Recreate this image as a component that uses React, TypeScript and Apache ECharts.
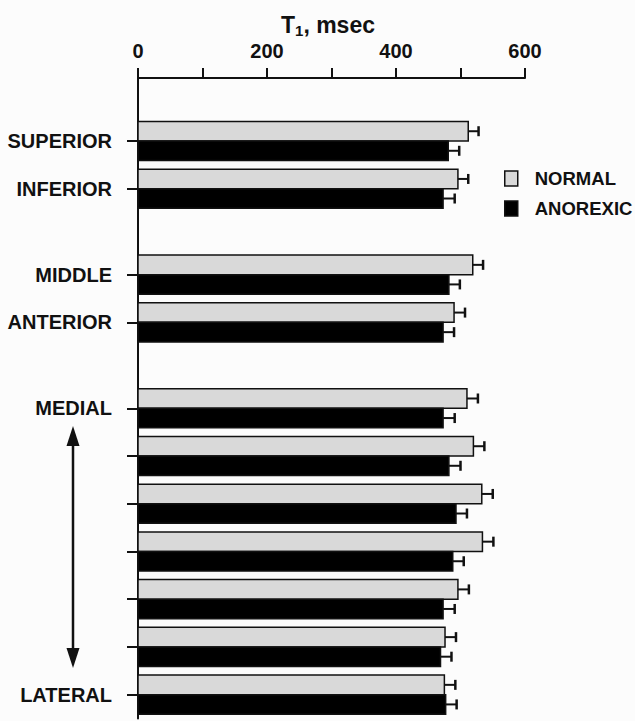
import React, { useEffect, useRef } from "react";
import * as echarts from "echarts";

// ---- data ----
const regions = ["SUPERIOR", "INFERIOR", "MIDDLE", "ANTERIOR", "MEDIAL", "", "", "", "", "", "LATERAL"];
const sections = [0, 0, 1, 1, 2, 2, 2, 2, 2, 2, 2];
const normal = [512, 496, 519, 490, 510, 520, 533, 534, 496, 476, 475];
const normalErr = [16, 16, 16, 17, 17, 17, 17, 17, 17, 17, 17];
const anorexic = [481, 473, 482, 473, 473, 482, 493, 488, 473, 469, 477];
const anorexicErr = [17, 18, 17, 17, 18, 18, 17, 17, 18, 17, 17];

const SECTION_GAP = 0.8;
const BAR_UNITS = 0.41;
const FONT = "'Liberation Sans', Arial, sans-serif";

const positions = regions.map((_, i) => i + sections[i] * SECTION_GAP);

function labelFor(v: number): string {
  for (let i = 0; i < positions.length; i++) {
    if (Math.abs(positions[i] - v) < 1e-6) return regions[i];
  }
  return "";
}

function makeRender(side: number, fill: string) {
  return (params: any, api: any) => {
    const v = api.value(0);
    const y = api.value(1);
    const e = api.value(2);
    const start = api.coord([0, y]);
    const end = api.coord([v, y]);
    const errEnd = api.coord([v + e, y]);
    const h = api.size([0, BAR_UNITS])[1];
    const top = side < 0 ? start[1] - h : start[1];
    const cy = top + h / 2;
    return {
      type: "group",
      children: [
        {
          type: "rect",
          shape: { x: start[0], y: top, width: end[0] - start[0], height: h },
          style: { fill, stroke: "#111", lineWidth: 1.5 },
        },
        {
          type: "line",
          shape: { x1: end[0], y1: cy, x2: errEnd[0], y2: cy },
          style: { stroke: "#111", lineWidth: 2 },
        },
        {
          type: "line",
          shape: { x1: errEnd[0], y1: cy - 5, x2: errEnd[0], y2: cy + 5 },
          style: { stroke: "#111", lineWidth: 2.5 },
        },
      ],
    };
  };
}

export default function App() {
  const ref = useRef<HTMLDivElement>(null);
  useEffect(() => {
    if (!ref.current) return;
    const chart = echarts.init(ref.current, null, { renderer: "svg" });
    const normalData = normal.map((v, i) => [v, positions[i], normalErr[i]]);
    const anorexicData = anorexic.map((v, i) => [v, positions[i], anorexicErr[i]]);
    chart.setOption({
      animation: false,
      backgroundColor: "#fcfcfc",
      textStyle: { fontFamily: FONT },
      grid: { left: 138, right: 110, top: 78, bottom: 2.5 },
      xAxis: {
        type: "value",
        position: "top",
        min: 0,
        max: 600,
        interval: 100,
        axisLine: { show: true, onZero: false, lineStyle: { color: "#111", width: 2 } },
        axisTick: { show: true, inside: false, length: 10, lineStyle: { color: "#111", width: 2 } },
        axisLabel: {
          margin: 17,
          fontSize: 20,
          fontWeight: "bold",
          color: "#111",
          fontFamily: FONT,
          formatter: (v: number) => (v % 200 === 0 ? String(v) : ""),
        },
        splitLine: { show: false },
      },
      yAxis: {
        type: "value",
        inverse: true,
        min: -1.32,
        max: 12.1,
        axisLine: { show: true, onZero: false, lineStyle: { color: "#111", width: 2 } },
        axisTick: {
          show: true,
          length: 11,
          customValues: positions,
          lineStyle: { color: "#111", width: 2 },
        },
        axisLabel: {
          margin: 26,
          fontSize: 20,
          fontWeight: "bold",
          color: "#111",
          fontFamily: FONT,
          customValues: positions,
          formatter: (v: number) => labelFor(v),
        },
        splitLine: { show: false },
      },
      legend: {
        orient: "vertical",
        left: 499,
        top: 164,
        itemWidth: 13,
        itemHeight: 15,
        itemGap: 11,
        textStyle: { fontSize: 18.5, fontWeight: "bold", color: "#111", fontFamily: FONT, padding: [0, 0, 0, 12] },
        data: [
          { name: "NORMAL", icon: "rect", itemStyle: { color: "#d9d9d9", borderColor: "#111", borderWidth: 1.5 } },
          { name: "ANOREXIC", icon: "rect", itemStyle: { color: "#000", borderColor: "#111", borderWidth: 1.5 } },
        ],
      },
      graphic: [
        {
          type: "text",
          left: 281,
          top: 6,
          style: {
            text: "{t|T}{s|1}{t|, msec}",
            fill: "#111",
            rich: {
              t: { fontSize: 23, fontWeight: "bold", fontFamily: FONT, fill: "#111", lineHeight: 25, verticalAlign: "top" },
              s: { fontSize: 15, fontWeight: "bold", fontFamily: FONT, fill: "#111", lineHeight: 25, verticalAlign: "bottom", padding: [17, 0, 0, 0] },
            },
          },
        },
        { type: "line", shape: { x1: 73, y1: 436, x2: 73, y2: 658 }, style: { stroke: "#111", lineWidth: 2.5 } },
        { type: "polygon", shape: { points: [[73, 426], [66.5, 446], [79.5, 446]] }, style: { fill: "#111" } },
        { type: "polygon", shape: { points: [[73, 668], [66.5, 648], [79.5, 648]] }, style: { fill: "#111" } },
      ],
      series: [
        {
          name: "NORMAL",
          type: "custom",
          encode: { x: 0, y: 1 },
          itemStyle: { color: "#d9d9d9" },
          renderItem: makeRender(-1, "#d9d9d9"),
          data: normalData,
        },
        {
          name: "ANOREXIC",
          type: "custom",
          encode: { x: 0, y: 1 },
          itemStyle: { color: "#000" },
          renderItem: makeRender(1, "#000"),
          data: anorexicData,
        },
      ],
    });
    return () => chart.dispose();
  }, []);
  return (
    <div
      ref={ref}
      style={{ position: "fixed", left: 0, top: 0, width: 635, height: 721 }}
    />
  );
}
